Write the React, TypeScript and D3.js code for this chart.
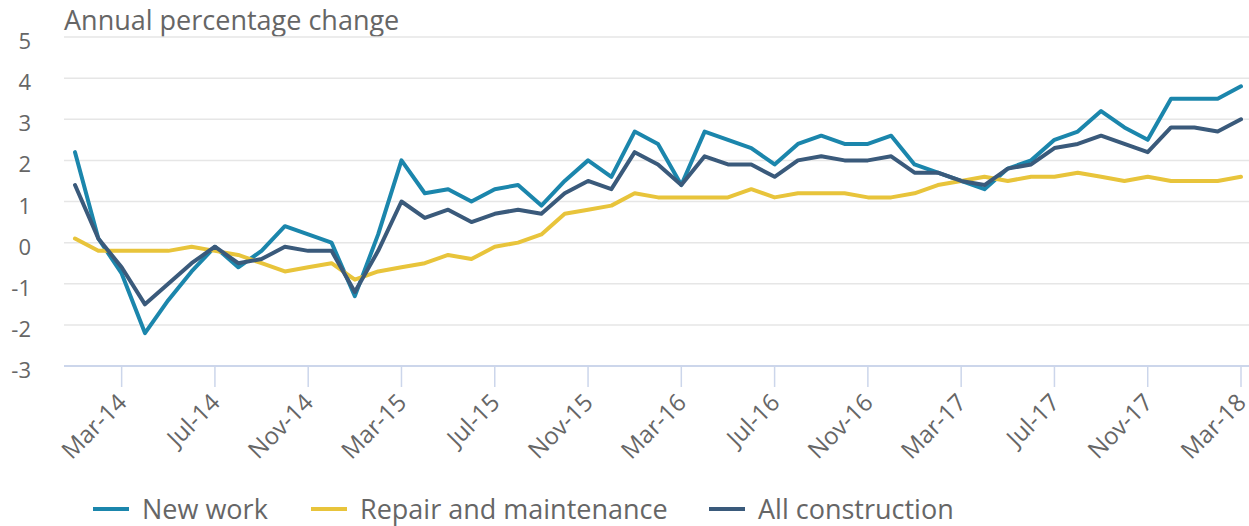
import React, { useEffect, useRef } from "react";
import * as d3 from "d3";

// monthly series Jan-14 .. Mar-18, annual % change
const months = [
  "Jan-14", "Feb-14", "Mar-14", "Apr-14", "May-14", "Jun-14", "Jul-14", "Aug-14", "Sep-14", "Oct-14", "Nov-14", "Dec-14",
  "Jan-15", "Feb-15", "Mar-15", "Apr-15", "May-15", "Jun-15", "Jul-15", "Aug-15", "Sep-15", "Oct-15", "Nov-15", "Dec-15",
  "Jan-16", "Feb-16", "Mar-16", "Apr-16", "May-16", "Jun-16", "Jul-16", "Aug-16", "Sep-16", "Oct-16", "Nov-16", "Dec-16",
  "Jan-17", "Feb-17", "Mar-17", "Apr-17", "May-17", "Jun-17", "Jul-17", "Aug-17", "Sep-17", "Oct-17", "Nov-17", "Dec-17",
  "Jan-18", "Feb-18", "Mar-18",
];

const newWork = [
  2.2, 0.1, -0.75, -2.2, -1.4, -0.7, -0.1, -0.6, -0.2, 0.4, 0.2, 0.0,
  -1.3, 0.2, 2.0, 1.2, 1.3, 1.0, 1.3, 1.4, 0.9, 1.5, 2.0, 1.6,
  2.7, 2.4, 1.4, 2.7, 2.5, 2.3, 1.9, 2.4, 2.6, 2.4, 2.4, 2.6,
  1.9, 1.7, 1.5, 1.3, 1.8, 2.0, 2.5, 2.7, 3.2, 2.8, 2.5, 3.5,
  3.5, 3.5, 3.8,
];

const repair = [
  0.1, -0.2, -0.2, -0.2, -0.2, -0.1, -0.2, -0.3, -0.5, -0.7, -0.6, -0.5,
  -0.9, -0.7, -0.6, -0.5, -0.3, -0.4, -0.1, 0.0, 0.2, 0.7, 0.8, 0.9,
  1.2, 1.1, 1.1, 1.1, 1.1, 1.3, 1.1, 1.2, 1.2, 1.2, 1.1, 1.1,
  1.2, 1.4, 1.5, 1.6, 1.5, 1.6, 1.6, 1.7, 1.6, 1.5, 1.6, 1.5,
  1.5, 1.5, 1.6,
];

const allConstruction = [
  1.4, 0.1, -0.6, -1.5, -1.0, -0.5, -0.1, -0.5, -0.4, -0.1, -0.2, -0.2,
  -1.2, -0.2, 1.0, 0.6, 0.8, 0.5, 0.7, 0.8, 0.7, 1.2, 1.5, 1.3,
  2.2, 1.9, 1.4, 2.1, 1.9, 1.9, 1.6, 2.0, 2.1, 2.0, 2.0, 2.1,
  1.7, 1.7, 1.5, 1.4, 1.8, 1.9, 2.3, 2.4, 2.6, 2.4, 2.2, 2.8,
  2.8, 2.7, 3.0,
];

const yTicks = [-3, -2, -1, 0, 1, 2, 3, 4, 5];

const series = [
  { name: "New work", values: newWork, color: "#1b86ac" },
  { name: "Repair and maintenance", values: repair, color: "#e8c43b" },
  { name: "All construction", values: allConstruction, color: "#3a5a7b" },
];

const App = () => {
  const ref = useRef<SVGSVGElement>(null);

  useEffect(() => {
    const svg = d3.select(ref.current);
    svg.selectAll("*").remove();

    const width = 1249;
    const height = 526;
    const left = 64;
    const font = "'Open Sans', sans-serif";
    const textColor = "#666666";

    const x = d3.scalePoint<string>().domain(months).range([75, 1241]);
    const y = d3.scaleLinear().domain([-3, 5]).range([366, 37]);

    svg.append("text")
      .attr("x", left)
      .attr("y", 30)
      .attr("font-family", font)
      .attr("font-size", 27)
      .attr("fill", textColor)
      .text("Annual percentage change");

    // grid
    svg.append("g")
      .selectAll("line")
      .data(yTicks.filter(d => d !== -3))
      .join("line")
      .attr("x1", left)
      .attr("x2", width)
      .attr("y1", d => y(d))
      .attr("y2", d => y(d))
      .attr("stroke", "#e6e6e6")
      .attr("stroke-width", 1.5);

    svg.append("g")
      .selectAll("text")
      .data(yTicks)
      .join("text")
      .attr("x", 31)
      .attr("y", d => y(d) + 12)
      .attr("text-anchor", "end")
      .attr("font-family", font)
      .attr("font-size", 22)
      .attr("fill", textColor)
      .text(d => d);

    // x axis
    const xAxis = svg.append("g");
    xAxis.append("line")
      .attr("x1", left)
      .attr("x2", width)
      .attr("y1", y(-3))
      .attr("y2", y(-3))
      .attr("stroke", "#ccd6eb")
      .attr("stroke-width", 2);

    const tickMonths = months.filter((_, i) => i % 4 === 2);
    xAxis.selectAll(".tick")
      .data(tickMonths)
      .join("line")
      .attr("class", "tick")
      .attr("x1", d => x(d)!)
      .attr("x2", d => x(d)!)
      .attr("y1", y(-3))
      .attr("y2", y(-3) + 21)
      .attr("stroke", "#ccd6eb")
      .attr("stroke-width", 1.5);

    xAxis.selectAll(".lbl")
      .data(tickMonths)
      .join("text")
      .attr("class", "lbl")
      .attr("transform", d => `translate(${x(d)! + 6.5},${y(-3) + 38}) rotate(-45)`)
      .attr("text-anchor", "end")
      .attr("font-family", font)
      .attr("font-size", 24)
      .attr("fill", textColor)
      .text(d => d);

    // lines
    const line = d3.line<number>()
      .x((_, i) => x(months[i])!)
      .y(d => y(d));

    svg.append("g")
      .selectAll("path")
      .data(series)
      .join("path")
      .attr("d", d => line(d.values))
      .attr("fill", "none")
      .attr("stroke", d => d.color)
      .attr("stroke-width", 4)
      .attr("stroke-linejoin", "round")
      .attr("stroke-linecap", "round");

    // legend
    const legendX = [93, 311, 709];
    const legend = svg.append("g");
    series.forEach((s, i) => {
      legend.append("line")
        .attr("x1", legendX[i])
        .attr("x2", legendX[i] + 36)
        .attr("y1", 509)
        .attr("y2", 509)
        .attr("stroke", s.color)
        .attr("stroke-width", 4);
      legend.append("text")
        .attr("x", legendX[i] + 49)
        .attr("y", 519)
        .attr("font-family", font)
        .attr("font-size", 27)
        .attr("fill", textColor)
        .text(s.name);
    });

    svg.attr("width", width).attr("height", height);
  }, []);

  return (
    <div style={{ position: "absolute", left: 0, top: 0 }}>
      <svg ref={ref} width={1249} height={526} style={{ display: "block", background: "#fff" }} />
    </div>
  );
};

export default App;
